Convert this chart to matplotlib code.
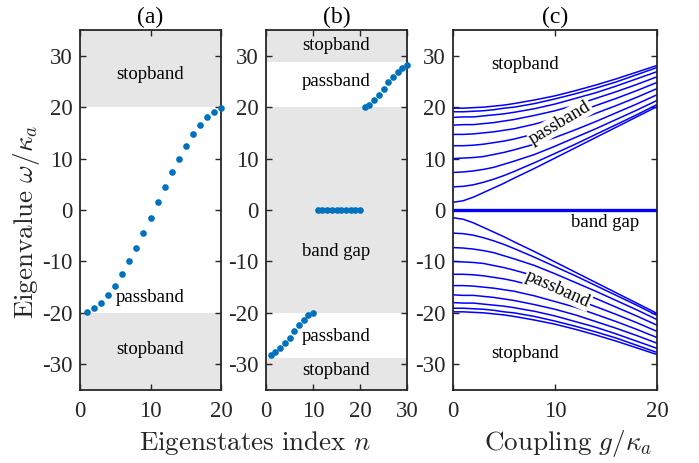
import numpy as np
import matplotlib
matplotlib.use("Agg")
import matplotlib.pyplot as plt

plt.rcParams['font.family'] = ['Liberation Serif', 'DejaVu Serif']
plt.rcParams['mathtext.fontset'] = 'cm'
plt.rcParams['axes.unicode_minus'] = False

# ---------------- data ----------------
# panel (a): 20 eigenstates
n_a = list(range(1, 21))
omega_a = [-19.8, -19.1, -18.0, -16.5, -14.7, -12.5, -10.0, -7.3, -4.5, -1.5,
           1.5, 4.5, 7.3, 10.0, 12.5, 14.7, 16.5, 18.0, 19.1, 19.8]

# panel (b): 30 eigenstates
n_b = list(range(1, 31))
omega_b = [-28.2, -27.7, -26.9, -25.9, -24.8, -23.6, -22.4, -21.3, -20.5, -20.1,
           0, 0, 0, 0, 0, 0, 0, 0, 0, 0,
           20.1, 20.5, 21.3, 22.4, 23.6, 24.8, 25.9, 26.9, 27.7, 28.2]

# panel (c): eigenvalues vs coupling g
g_c = [0, 1, 2, 3, 4, 5, 6, 8, 10, 12, 14, 16, 18, 20]
upper_c = [
    [19.8, 19.8, 19.9, 20.0, 20.2, 20.4, 20.7, 21.4, 22.2, 23.2, 24.3, 25.5, 26.8, 28.1],
    [19.1, 19.1, 19.2, 19.3, 19.5, 19.8, 20.0, 20.7, 21.6, 22.6, 23.7, 24.9, 26.3, 27.7],
    [18.0, 18.1, 18.1, 18.3, 18.5, 18.7, 19.0, 19.7, 20.6, 21.7, 22.8, 24.1, 25.5, 26.9],
    [16.5, 16.6, 16.6, 16.8, 17.0, 17.3, 17.6, 18.4, 19.3, 20.4, 21.7, 23.0, 24.4, 25.9],
    [14.7, 14.7, 14.8, 15.0, 15.2, 15.5, 15.8, 16.7, 17.8, 18.9, 20.3, 21.7, 23.2, 24.8],
    [12.5, 12.5, 12.6, 12.8, 13.1, 13.4, 13.8, 14.8, 16.0, 17.3, 18.8, 20.3, 21.9, 23.6],
    [10.0, 10.1, 10.2, 10.4, 10.8, 11.2, 11.7, 12.8, 14.1, 15.6, 17.2, 18.9, 20.6, 22.4],
    [7.3, 7.4, 7.6, 7.9, 8.3, 8.9, 9.5, 10.8, 12.4, 14.1, 15.8, 17.6, 19.4, 21.3],
    [4.5, 4.6, 4.9, 5.4, 6.0, 6.7, 7.5, 9.2, 11.0, 12.8, 14.7, 16.6, 18.5, 20.5],
    [1.5, 1.8, 2.5, 3.4, 4.3, 5.2, 6.2, 8.1, 10.1, 12.1, 14.1, 16.1, 18.1, 20.1],
]
lower_c = [[-v for v in row] for row in upper_c]
zero_c = [0] * len(g_c)

# band edges
edges_a = [20, -20]
edges_b = [28.8, 20, -20, -28.8]

yticks = [-30, -20, -10, 0, 10, 20, 30]
gray = '#E6E6E6'
dot_color = '#0072BD'
line_color = '#0000FF'
spine_color = '#262626'

fig = plt.figure(figsize=(6.99, 4.63), dpi=100)
W, H = 699, 463
def ax_rect(l, r, t, b):
    return [l / W, (H - b) / H, (r - l) / W, (b - t) / H]

ax_a = fig.add_axes(ax_rect(80, 221, 30, 390))
ax_b = fig.add_axes(ax_rect(266, 407, 30, 390))
ax_c = fig.add_axes(ax_rect(453, 657, 30, 390))

tick_fs = 16.5
txt_fs = 13.5
title_fs = 17

for ax in (ax_a, ax_b, ax_c):
    ax.set_ylim(-35, 35)
    ax.set_yticks(yticks)
    ax.set_yticklabels([str(t) for t in yticks])
    ax.tick_params(direction='in', length=4, width=1.0, top=True, right=True,
                   labelsize=tick_fs, colors=spine_color, labelcolor='#262626')
    ax.tick_params(axis='y', pad=5.5)
    ax.tick_params(axis='x', pad=8)
    for s in ax.spines.values():
        s.set_color(spine_color)
        s.set_linewidth(1.3)

# ---- (a)
ax_a.set_xlim(0, 20)
ax_a.set_xticks([0, 10, 20])
ax_a.axhspan(edges_a[0], 35, color=gray, lw=0, zorder=0)
ax_a.axhspan(-35, edges_a[1], color=gray, lw=0, zorder=0)
ax_a.plot(n_a, omega_a, 'o', color=dot_color, ms=4.8, mew=0, zorder=3, clip_on=False)
ax_a.text(10, 26.3, 'stopband', ha='center', va='center', fontsize=txt_fs)
ax_a.text(10, -17.0, 'passband', ha='center', va='center', fontsize=txt_fs)
ax_a.text(10, -27.1, 'stopband', ha='center', va='center', fontsize=txt_fs)
ax_a.set_title('(a)', fontsize=title_fs, pad=5)

# ---- (b)
ax_b.set_xlim(0, 30)
ax_b.set_xticks([0, 10, 20, 30])
ax_b.axhspan(edges_b[0], 35, color=gray, lw=0, zorder=0)
ax_b.axhspan(edges_b[2], edges_b[1], color=gray, lw=0, zorder=0)
ax_b.axhspan(-35, edges_b[3], color=gray, lw=0, zorder=0)
ax_b.plot(n_b, omega_b, 'o', color=dot_color, ms=4.8, mew=0, zorder=3, clip_on=False)
ax_b.text(15, 31.9, 'stopband', ha='center', va='center', fontsize=txt_fs)
ax_b.text(15, 24.9, 'passband', ha='center', va='center', fontsize=txt_fs)
ax_b.text(15, -8.1, 'band gap', ha='center', va='center', fontsize=txt_fs)
ax_b.text(15, -24.6, 'passband', ha='center', va='center', fontsize=txt_fs)
ax_b.text(15, -31.3, 'stopband', ha='center', va='center', fontsize=txt_fs)
ax_b.set_title('(b)', fontsize=title_fs, pad=5)

# ---- (c)
ax_c.set_xlim(0, 20)
ax_c.set_xticks([0, 10, 20])
for row in upper_c:
    ax_c.plot(g_c, row, color=line_color, lw=1.1, zorder=2)
for row in lower_c:
    ax_c.plot(g_c, row, color=line_color, lw=1.1, zorder=2)
ax_c.plot(g_c, zero_c, color=line_color, lw=2.4, zorder=2)
box = dict(boxstyle='square,pad=0.05', fc='white', ec='none')
ax_c.text(7.1, 28.2, 'stopband', ha='center', va='center', fontsize=txt_fs)
ax_c.text(10.5, 17.0, 'passband', ha='center', va='center', fontsize=txt_fs,
          rotation=31, rotation_mode='anchor', bbox=box, zorder=4)
ax_c.text(14.9, -2.4, 'band gap', ha='center', va='center', fontsize=txt_fs)
ax_c.text(10.3, -15.4, 'passband', ha='center', va='center', fontsize=txt_fs,
          rotation=-24, rotation_mode='anchor', bbox=box, zorder=4)
ax_c.text(7.1, -28.0, 'stopband', ha='center', va='center', fontsize=txt_fs)
ax_c.set_title('(c)', fontsize=title_fs, pad=5)

# axis labels
lab_fs = 19.5
fig.text(255 / W, 1 - 450 / H, r'$\mathrm{Eigenstates\ index}\ n$', ha='center',
         va='baseline', fontsize=lab_fs, color='#262626')
fig.text(568 / W, 1 - 450 / H, r'$\mathrm{Coupling}\ g/\kappa_a$', ha='center',
         va='baseline', fontsize=lab_fs, color='#262626')
fig.text(27 / W, 1 - 222 / H, r'$\mathrm{Eigenvalue}\ \omega/\kappa_a$', ha='center',
         va='center', fontsize=lab_fs, rotation=90, color='#262626')

fig.savefig('out.png', dpi=100)
